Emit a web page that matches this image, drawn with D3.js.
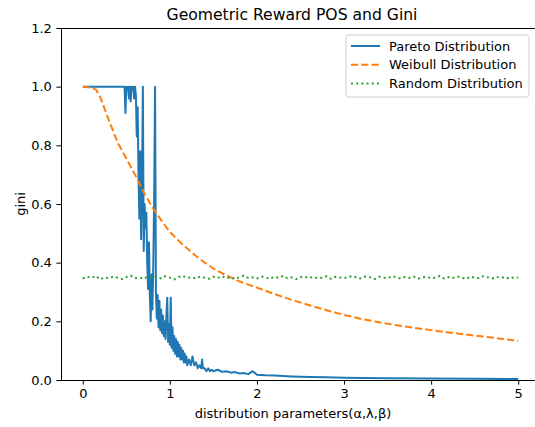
<!DOCTYPE html>
<html>
<head>
<meta charset="utf-8">
<script src="https://cdn.jsdelivr.net/npm/d3@7"></script>
<style>
  body { margin: 0; background: #fff; }
  svg text { font-family: "DejaVu Sans", sans-serif; fill: #000; }
</style>
</head>
<body>
<div id="chart"></div>
<script>
const width = 535;
const height = 427;

// pareto curve (alpha, gini)
const paretoX = [0, 0.1, 0.2, 0.3, 0.4, 0.45, 0.46, 0.47, 0.48, 0.49, 0.50, 0.51, 0.52, 0.53, 0.54, 0.55, 0.56, 0.57, 0.58, 0.59,
  0.60, 0.61, 0.62, 0.63, 0.64, 0.65, 0.66, 0.67, 0.68, 0.69, 0.70, 0.71, 0.72, 0.73, 0.74, 0.75, 0.76, 0.77, 0.78, 0.79,
  0.80, 0.81, 0.82, 0.83, 0.84, 0.85, 0.86, 0.87, 0.88, 0.89, 0.90, 0.91, 0.92, 0.93, 0.94, 0.95, 0.96, 0.97, 0.98, 0.99,
  1.00, 1.01, 1.02, 1.03, 1.04, 1.05, 1.06, 1.07, 1.08, 1.09, 1.10, 1.11, 1.12, 1.13, 1.14, 1.15, 1.16, 1.17, 1.18, 1.19,
  1.20, 1.22, 1.24, 1.26, 1.28, 1.30, 1.32, 1.34, 1.36, 1.37, 1.38, 1.40, 1.42, 1.44, 1.46, 1.48, 1.50, 1.55, 1.60, 1.65,
  1.70, 1.75, 1.80, 1.85, 1.90, 1.95, 2.00, 2.10, 2.20, 2.40, 2.60, 2.80, 3.00, 3.50, 4.00, 4.50, 5.00];
const paretoGini = [1, 1, 1, 1, 1, 1, 1, 1, 1, 0.91, 1, 0.99, 1, 0.96, 1, 0.95, 1, 0.99, 1, 0.96,
  1, 0.97, 0.83, 0.93, 0.70, 0.55, 0.78, 0.48, 0.66, 1, 0.44, 0.60, 0.52, 0.57, 0.40, 0.31, 0.47, 0.29, 0.20, 0.36,
  0.24, 0.40, 0.63, 1, 0.30, 0.21, 0.29, 0.18, 0.27, 0.17, 0.24, 0.16, 0.22, 0.15, 0.20, 0.14, 0.22, 0.28, 0.13, 0.19,
  0.12, 0.28, 0.11, 0.18, 0.10, 0.15, 0.09, 0.14, 0.08, 0.13, 0.08, 0.12, 0.07, 0.11, 0.07, 0.10, 0.06, 0.09, 0.06, 0.08,
  0.05, 0.07, 0.05, 0.08, 0.05, 0.06, 0.04, 0.05, 0.04, 0.07, 0.04, 0.04, 0.03, 0.04, 0.03, 0.035, 0.03, 0.035, 0.028, 0.03,
  0.025, 0.027, 0.022, 0.024, 0.02, 0.03, 0.018, 0.016, 0.015, 0.012, 0.01, 0.009, 0.008, 0.006, 0.005, 0.004, 0.003];

// weibull curve (lambda, gini)
const weibullX = [0, 0.1, 0.15, 0.2, 0.3, 0.4, 0.5, 0.6, 0.7, 0.8, 0.9, 1.0, 1.1, 1.2, 1.3, 1.4, 1.5, 1.6, 1.7, 1.8, 1.9,
  2.0, 2.2, 2.4, 2.6, 2.8, 3.0, 3.2, 3.4, 3.6, 3.8, 4.0, 4.2, 4.4, 4.6, 4.8, 5.0];
const weibullGini = [1.0, 0.997, 0.99, 0.965, 0.885, 0.81, 0.755, 0.70, 0.64, 0.588, 0.545, 0.505, 0.475, 0.448, 0.423, 0.40, 0.38, 0.364, 0.35, 0.336, 0.325,
  0.315, 0.293, 0.273, 0.255, 0.238, 0.222, 0.208, 0.197, 0.187, 0.178, 0.17, 0.162, 0.155, 0.148, 0.141, 0.133];

// random curve (beta, gini)
const randomX = d3.range(0, 101).map(i => i * 0.05);
const randomGini = [0.346, 0.352, 0.348, 0.355, 0.343, 0.350, 0.347, 0.353, 0.349, 0.344,
  0.351, 0.356, 0.347, 0.350, 0.345, 0.353, 0.348, 0.352, 0.346, 0.354,
  0.349, 0.343, 0.351, 0.355, 0.348, 0.350, 0.346, 0.353, 0.349, 0.345,
  0.352, 0.348, 0.354, 0.347, 0.350, 0.344, 0.351, 0.356, 0.348, 0.350,
  0.346, 0.353, 0.349, 0.345, 0.352, 0.348, 0.355, 0.347, 0.350, 0.344,
  0.351, 0.349, 0.353, 0.346, 0.350, 0.348, 0.354, 0.345, 0.352, 0.349,
  0.347, 0.351, 0.355, 0.348, 0.346, 0.353, 0.350, 0.344, 0.352, 0.349,
  0.347, 0.354, 0.350, 0.346, 0.351, 0.348, 0.353, 0.345, 0.350, 0.352,
  0.347, 0.349, 0.355, 0.346, 0.351, 0.348, 0.353, 0.350, 0.344, 0.352,
  0.349, 0.347, 0.354, 0.350, 0.346, 0.352, 0.348, 0.351, 0.345, 0.350,
  0.349];

const xTicks = [0, 1, 2, 3, 4, 5];
const yTicks = [0, 0.2, 0.4, 0.6, 0.8, 1.0, 1.2];

const seriesNames = ["Pareto Distribution", "Weibull Distribution", "Random Distribution"];
const seriesColors = ["#1f77b4", "#ff7f0e", "#2ca02c"];
const seriesDash = [null, "7.2,3.1", "2,3.2"];

const plot = { left: 61, right: 540, top: 28, bottom: 380 };

const svg = d3.select("#chart").append("svg")
  .attr("width", width)
  .attr("height", height)

const x = d3.scaleLinear()
  .domain([-0.25, 5.25])
  .range([plot.left, plot.right])

const y = d3.scaleLinear()
  .domain([0, 1.2])
  .range([plot.bottom, plot.top])

svg.append("clipPath").attr("id", "clip")
  .append("rect")
    .attr("x", plot.left).attr("y", plot.top)
    .attr("width", plot.right - plot.left).attr("height", plot.bottom - plot.top)

const line = d3.line()
  .x(d => x(d[0]))
  .y(d => y(d[1]))

const series = [
  d3.zip(paretoX, paretoGini),
  d3.zip(weibullX, weibullGini),
  d3.zip(randomX, randomGini)
];

const lines = svg.append("g").attr("clip-path", "url(#clip)");

series.forEach((s, i) => {
  lines.append("path")
    .datum(s)
    .attr("d", line)
    .attr("fill", "none")
    .attr("stroke", seriesColors[i])
    .attr("stroke-width", 2)
    .attr("stroke-dasharray", seriesDash[i])
    .attr("stroke-linejoin", "round")
});

// axes
const xAxis = svg.append("g")
  .attr("transform", `translate(0,${plot.bottom})`)
  .call(d3.axisBottom(x).tickValues(xTicks).tickFormat(d3.format("d")).tickSize(4.6).tickPadding(4.5))

const yAxis = svg.append("g")
  .attr("transform", `translate(${plot.left},0)`)
  .call(d3.axisLeft(y).tickValues(yTicks).tickFormat(d3.format(".1f")).tickSize(4.6).tickPadding(4.5))

;[xAxis, yAxis].forEach(a => {
  a.select(".domain").remove();
  a.selectAll("text").style("font-size", "13px").attr("fill", "#000");
  a.selectAll("line").attr("stroke", "#000").attr("stroke-width", 1);
});

// frame
svg.append("rect")
  .attr("x", plot.left + 0.5)
  .attr("y", plot.top + 0.5)
  .attr("width", plot.right - plot.left)
  .attr("height", plot.bottom - plot.top)
  .attr("fill", "none")
  .attr("stroke", "#000")
  .attr("stroke-width", 1)

// texts
svg.append("text")
  .attr("x", 292)
  .attr("y", 20)
  .attr("text-anchor", "middle")
  .style("font-size", "15.6px")
  .text("Geometric Reward POS and Gini")

svg.append("text")
  .attr("x", 293)
  .attr("y", 418)
  .attr("text-anchor", "middle")
  .style("font-size", "13px")
  .text("distribution parameters(α,λ,β)")

svg.append("text")
  .attr("transform", `translate(25,${(plot.top + plot.bottom) / 2}) rotate(-90)`)
  .attr("text-anchor", "middle")
  .style("font-size", "13px")
  .text("gini")

// legend
const legend = svg.append("g").attr("transform", "translate(346,35)");

legend.append("rect")
  .attr("width", 183)
  .attr("height", 62)
  .attr("rx", 2.5)
  .attr("fill", "#fff")
  .attr("fill-opacity", 0.8)
  .attr("stroke", "#cccccc")

seriesNames.forEach((name, i) => {
  const ly = 11 + i * 18.8;
  legend.append("line")
    .attr("x1", 5).attr("x2", 34)
    .attr("y1", ly).attr("y2", ly)
    .attr("stroke", seriesColors[i])
    .attr("stroke-width", 2)
    .attr("stroke-dasharray", seriesDash[i])
  legend.append("text")
    .attr("x", 43)
    .attr("y", ly + 4.6)
    .style("font-size", "13px")
    .text(name)
});
</script>
</body>
</html>
